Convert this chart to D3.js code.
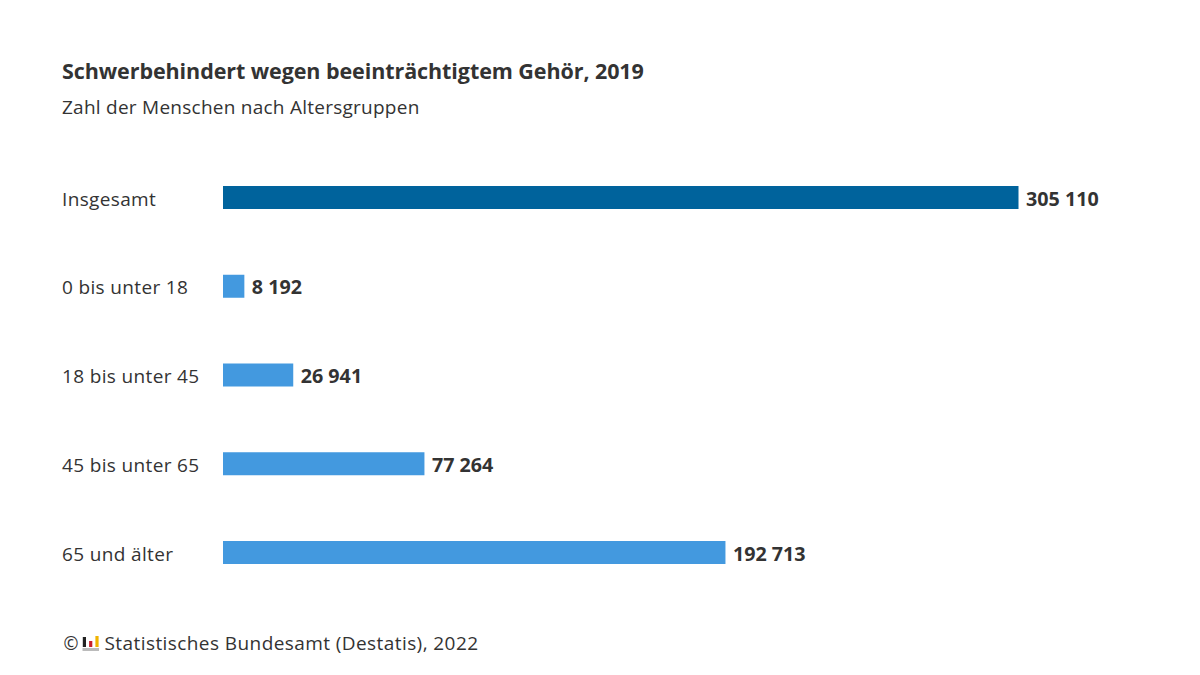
<!DOCTYPE html>
<html><head><meta charset="utf-8">
<script src="https://cdn.jsdelivr.net/npm/d3@7"></script>
<style>html,body{margin:0;background:#fff}text{font-family:"Open Sans","Noto Sans",sans-serif;fill:#333}</style>
</head><body><div id="chart"></div>
<script>
const categories = ["Insgesamt","0 bis unter 18","18 bis unter 45","45 bis unter 65","65 und älter"];
const values = [305110,8192,26941,77264,192713];
const barColors = ["#00639c","#4399df","#4399df","#4399df","#4399df"];
const valueLabels = ["305 110","8 192","26 941","77 264","192 713"];
const svg = d3.select("#chart").append("svg").attr("width",1200).attr("height",675);
svg.append("text").attr("x",62).attr("y",79).attr("font-size",21.5).attr("letter-spacing",-0.08).attr("font-weight",700).text("Schwerbehindert wegen beeinträchtigtem Gehör, 2019");
svg.append("text").attr("x",62).attr("y",114).attr("font-size",19).attr("letter-spacing",0.25).text("Zahl der Menschen nach Altersgruppen");
const x = d3.scaleLinear().domain([0,305110]).range([223,1018.5]);
const y = d3.scalePoint().domain(categories).range([197.5,552.5]);
const h = 23;
const rows = svg.selectAll("g.row").data(categories).join("g").attr("class","row");
rows.append("rect").attr("x",x(0)).attr("y",d=>y(d)-h/2).attr("height",h)
  .attr("width",(d,i)=>x(values[i])-x(0)).attr("fill",(d,i)=>barColors[i]);
rows.append("text").attr("x",62).attr("y",d=>y(d)+8).attr("font-size",19).attr("letter-spacing",0.35).text(d=>d);
rows.append("text").attr("x",(d,i)=>x(values[i])+7.5).attr("y",d=>y(d)+8).attr("font-size",19.7).attr("font-weight",700).text((d,i)=>valueLabels[i]);
// Footer: copyright sign, three-bar logo on a grey base, source line
const foot = svg.append("g");
foot.append("text").attr("x",63.5).attr("y",650).attr("font-size",18).text("©");
const logoHeights = [10,6,11];
const logoColors = ["#222","#c8202c","#f0b400"];
const logoX = d3.scalePoint().domain(d3.range(3)).range([82.8,95.4]);
foot.selectAll("rect.logo").data(logoHeights).join("rect").attr("class","logo")
  .attr("x",(d,i)=>logoX(i)).attr("width",3.2).attr("y",d=>647-d).attr("height",d=>d).attr("fill",(d,i)=>logoColors[i]);
foot.append("rect").attr("x",82.5).attr("y",648).attr("width",16.5).attr("height",3).attr("fill","#bbb");
foot.append("text").attr("x",104.5).attr("y",650).attr("font-size",19).attr("letter-spacing",0.42).text("Statistisches Bundesamt (Destatis), 2022");
</script></body></html>
